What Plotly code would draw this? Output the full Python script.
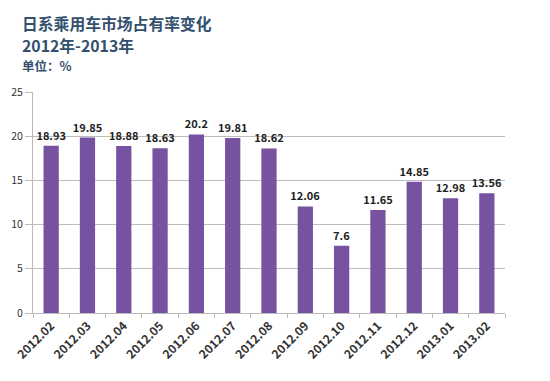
import plotly.graph_objects as go

categories = ["2012.02", "2012.03", "2012.04", "2012.05", "2012.06", "2012.07", "2012.08",
              "2012.09", "2012.10", "2012.11", "2012.12", "2013.01", "2013.02"]
values = [18.93, 19.85, 18.88, 18.63, 20.2, 19.81, 18.62, 12.06, 7.6, 11.65, 14.85, 12.98, 13.56]
value_labels = ["18.93", "19.85", "18.88", "18.63", "20.2", "19.81", "18.62", "12.06", "7.6",
                "11.65", "14.85", "12.98", "13.56"]
y_ticks = [0, 5, 10, 15, 20, 25]

fig = go.Figure(go.Bar(
    x=categories, y=values, text=value_labels, textposition="outside",
    texttemplate="<b>%{text}</b>", constraintext="none",
    textfont=dict(family="Noto Sans CJK SC", size=11, color="#222222"),
    marker=dict(color="#7752a0", line=dict(width=0)),
    cliponaxis=False,
))

title_color = "#34506f"
fig.update_layout(
    width=550, height=381,
    paper_bgcolor="#ffffff", plot_bgcolor="#ffffff",
    margin=dict(l=25, r=53, t=84, b=76),
    bargap=0.58,
    showlegend=False,
    font=dict(family="Noto Sans CJK SC", color="#333333"),
    annotations=[
        dict(text="<b>日系乘用车市场占有率变化</b>", xref="paper", yref="paper", x=-0.0275, y=1.310,
             xanchor="left", yanchor="middle", showarrow=False,
             font=dict(family="Noto Sans CJK SC", size=15.8, color=title_color)),
        dict(text="<b>2012年-2013年</b>", xref="paper", yref="paper", x=-0.0275, y=1.212,
             xanchor="left", yanchor="middle", showarrow=False,
             font=dict(family="Noto Sans CJK SC", size=15.8, color=title_color)),
        dict(text="<b>单位：%</b>", xref="paper", yref="paper", x=-0.0275, y=1.122,
             xanchor="left", yanchor="middle", showarrow=False,
             font=dict(family="Noto Sans CJK SC", size=12.5, color=title_color)),
    ],
)
fig.update_xaxes(
    tickangle=-45, tickfont=dict(size=12, color="#333333", family="Noto Sans CJK SC"),
    tickprefix="<b>", ticksuffix="</b>", automargin=False,
    showline=True, linecolor="#bbbbbb", ticks="outside", tickcolor="#bbbbbb", ticklen=4,
    tickson="boundaries", showgrid=False,
)
fig.update_yaxes(
    range=[0, 25], tickvals=y_ticks, showline=True, linecolor="#bbbbbb",
    tickprefix="<b>", ticksuffix="</b>", automargin=False,
    gridcolor="#bdbdbd", gridwidth=1, ticks="outside", tickcolor="#bbbbbb", ticklen=7,
    tickfont=dict(size=10.5, color="#333333", family="Noto Sans CJK SC"),
    zeroline=False,
)

fig.write_html("out.html")
